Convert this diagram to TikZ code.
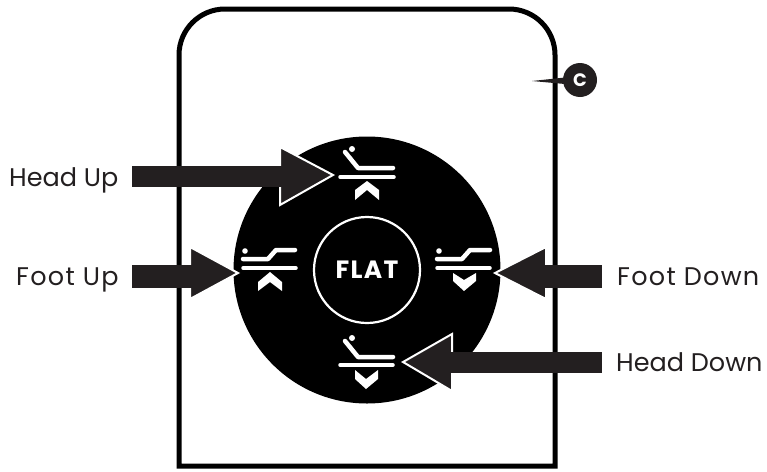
\documentclass[tikz,border=0pt]{standalone}
\usepackage{fontspec}
\setmainfont{Poppins}
\definecolor{ink}{HTML}{231F20}
\tikzset{
  lbl/.style={font=\fontsize{25.5}{28}\selectfont,text=ink,inner sep=0pt},
  lblwide/.style={font=\fontsize{25.5}{28}\selectfont\addfontfeatures{LetterSpace=5},text=ink,inner sep=0pt},
  bigarrow/.style={fill=ink,draw=none},
  arrowhalo/.style={fill=ink,draw=white,line width=2pt,miter limit=10},
  iconline/.style={draw=white,line width=4.5pt,line cap=round,line join=round},
  iconbase/.style={draw=white,line width=3.5pt,line cap=round},
  iconfill/.style={fill=white,draw=none}
}
\begin{document}
\begin{tikzpicture}[x=1pt,y=-1pt]
\useasboundingbox (0,0) rectangle (767,471);
\fill[white] (0,0) rectangle (767,471);
% panel
\draw[black,line width=5pt,line join=miter] (179,466) -- (179,55) .. controls (179,29.6) and (199.6,9) .. (225,9) -- (509,9) .. controls (534.4,9) and (555,29.6) .. (555,55) -- (555,466) -- cycle;
% disc
\fill[black] (367,270) circle (133.5);
\draw[white,line width=2.2pt] (367,270) circle (53);
\node[text=white,font=\fontsize{25}{28}\selectfont\bfseries\addfontfeatures{LetterSpace=5},inner sep=0pt] (flat) at (367,270) {FLAT};
% Head Up arrow
\draw[arrowhalo] (280,147) -- (333,175) -- (280,205) -- cycle;
\fill[bigarrow] (132,166) rectangle (284,187);
% Foot Up arrow
\draw[arrowhalo] (190,247) -- (238,273) -- (190,299) -- cycle;
\fill[bigarrow] (132,265) rectangle (192,288);
% Foot Down arrow
\draw[arrowhalo] (546,247) -- (495,273) -- (546,299) -- cycle;
\fill[bigarrow] (544,265) rectangle (602,288);
% Head Down arrow
\draw[arrowhalo] (452,334) -- (403,362) -- (452,391) -- cycle;
\fill[bigarrow] (450,352) rectangle (602,373);
% icon: head up
\fill[iconfill] (352,149) circle (3);
\draw[iconline] (345,152) -- (358,168) -- (393,168);
\draw[iconbase] (340,177) -- (394,177);
\fill[iconfill] (355,190) -- (367,181) -- (379,190) -- (379,200) -- (367,190) -- (355,200) -- cycle;
% icon: foot up
\fill[iconfill] (245,251) circle (2.8);
\draw[iconline] (243,259) -- (268,259) -- (276,250) -- (295,250);
\draw[iconbase] (243,268) -- (296,268);
\fill[iconfill] (258,282) -- (270,272) -- (282,282) -- (282,291) -- (270,282) -- (258,291) -- cycle;
% icon: foot down
\fill[iconfill] (439,251) circle (2.8);
\draw[iconline] (437,259) -- (462,259) -- (470,250) -- (490,250);
\draw[iconbase] (437,268) -- (490,268);
\fill[iconfill] (453,273) -- (464,280) -- (476,273) -- (476,281) -- (464,291) -- (453,281) -- cycle;
% icon: head down
\fill[iconfill] (352,338) circle (3);
\draw[iconline] (345,341) -- (358,357) -- (393,357);
\draw[iconbase] (340,365) -- (393,365);
\fill[iconfill] (355,370) -- (366,379) -- (378,370) -- (378,379) -- (366,389) -- (355,379) -- cycle;
% callout C
\fill[ink] (532,81) -- (565,77.5) -- (565,84) -- cycle;
\fill[ink] (580,80) circle (17);
\node[text=white,font=\fontsize{18}{20}\selectfont\bfseries,inner sep=0pt] (c) at (580,80) {C};
% labels
\node[lbl,anchor=base west] (headup) at (9,186) {Head Up};
\node[lblwide,anchor=base west] (footup) at (16,285) {Foot Up};
\node[lblwide,anchor=base west] (footdown) at (617,285) {Foot Down};
\node[lbl,anchor=base west] (headdown) at (616,371) {Head Down};
\end{tikzpicture}
\end{document}
